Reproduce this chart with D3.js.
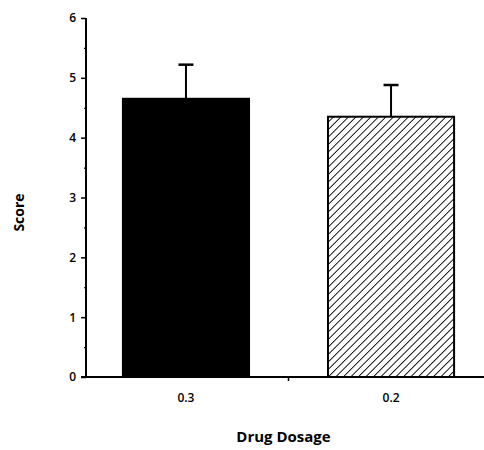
<!DOCTYPE html>
<html>
<head>
<meta charset="utf-8">
<script src="https://cdn.jsdelivr.net/npm/d3@7"></script>
<style>
html,body{margin:0;padding:0;background:#fff;}
svg{display:block;}
text{font-family:"Open Sans","DejaVu Sans",sans-serif;fill:#000;}
</style>
</head>
<body>
<svg id="chart" width="484" height="450"></svg>
<script>
const categories = ["0.3", "0.2"];
const means = [4.65, 4.35];
const errors = [0.57, 0.53];
const yTicks = [0, 1, 2, 3, 4, 5, 6];
const yMinorTicks = [0.5, 1.5, 2.5, 3.5, 4.5, 5.5];
const fills = ["solid", "hatch"];

const svg = d3.select("#chart");
const x0 = 86, yBase = 377, yTop = 18;

const y = d3.scaleLinear().domain([0, 6]).range([yBase, yTop]);
const x = d3.scaleBand().domain(categories).range([x0, 491])
  .paddingInner(0.385).paddingOuter(0.18);

// hatch pattern
const hs = 5.3;
const defs = svg.append("defs");
const pat = defs.append("pattern").attr("id", "hatch")
  .attr("patternUnits", "userSpaceOnUse")
  .attr("width", hs).attr("height", hs)
  .attr("patternTransform", "rotate(45)");
pat.append("rect").attr("width", hs).attr("height", hs).attr("fill", "#fff");
pat.append("line").attr("x1", 0).attr("y1", 0).attr("x2", 0).attr("y2", hs)
  .attr("stroke", "#000").attr("stroke-width", 1.8);

// bars
const g = svg.append("g");
categories.forEach((c, i) => {
  g.append("rect")
    .attr("x", x(c)).attr("y", y(means[i]))
    .attr("width", x.bandwidth()).attr("height", yBase - y(means[i]))
    .attr("fill", fills[i] === "solid" ? "#000" : "url(#hatch)")
    .attr("stroke", "#000").attr("stroke-width", 2);
  const cx = x(c) + x.bandwidth() / 2;
  g.append("line")
    .attr("x1", cx).attr("x2", cx)
    .attr("y1", y(means[i])).attr("y2", y(means[i] + errors[i]))
    .attr("stroke", "#000").attr("stroke-width", 2);
  g.append("line")
    .attr("x1", cx - 7.5).attr("x2", cx + 7.5)
    .attr("y1", y(means[i] + errors[i])).attr("y2", y(means[i] + errors[i]))
    .attr("stroke", "#000").attr("stroke-width", 2.5);
});

// y axis
const yAxis = d3.axisLeft(y).tickValues(yTicks).tickFormat(d3.format("d"))
  .tickSize(5).tickPadding(5);
const ya = svg.append("g").attr("transform", `translate(${x0},0)`).call(yAxis);
ya.select(".domain").remove();
ya.selectAll(".tick line").attr("stroke", "#000").attr("stroke-width", 1.5);
ya.selectAll(".tick text").attr("font-size", 12).attr("font-weight", 600);
svg.append("line").attr("x1", x0).attr("x2", x0).attr("y1", y(6)).attr("y2", yBase)
  .attr("stroke", "#000").attr("stroke-width", 2);
const yMinor = d3.axisLeft(y).tickValues(yMinorTicks).tickSize(2).tickFormat("");
const ym = svg.append("g").attr("transform", `translate(${x0},0)`).call(yMinor);
ym.select(".domain").remove();
ym.selectAll(".tick line").attr("stroke", "#000").attr("stroke-width", 1.2);

// x axis
const xAxis = d3.axisBottom(x).tickSize(0).tickPadding(16);
const xa = svg.append("g").attr("transform", `translate(0,${yBase})`).call(xAxis);
xa.select(".domain").remove();
xa.selectAll(".tick text").attr("font-size", 12).attr("font-weight", 600);
svg.append("line").attr("x1", x0 - 5).attr("x2", 484).attr("y1", yBase).attr("y2", yBase)
  .attr("stroke", "#000").attr("stroke-width", 2);
// separator tick between categories
const midX = (x(categories[0]) + x.bandwidth() + x(categories[1])) / 2;
svg.append("line").attr("x1", midX).attr("x2", midX).attr("y1", yBase).attr("y2", yBase + 4)
  .attr("stroke", "#000").attr("stroke-width", 1.5);

// axis titles
svg.append("text").attr("transform", `translate(24,${(yBase + yTop) / 2 + 15}) rotate(-90)`)
  .attr("text-anchor", "middle").attr("font-size", 14).attr("font-weight", "bold")
  .text("Score");
svg.append("text").attr("x", midX - 5).attr("y", 442)
  .attr("text-anchor", "middle").attr("font-size", 15).attr("font-weight", "bold")
  .text("Drug Dosage");
</script>
</body>
</html>
